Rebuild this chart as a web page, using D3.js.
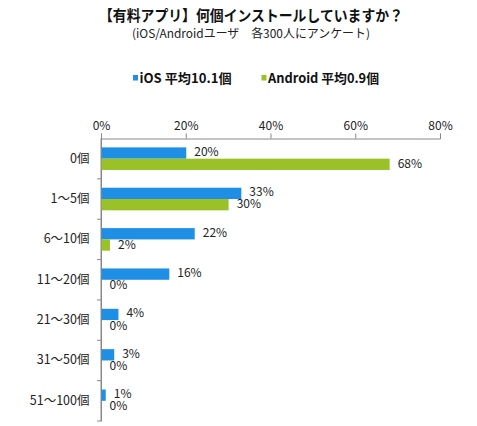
<!DOCTYPE html>
<html><head><meta charset="utf-8">
<script src="https://cdn.jsdelivr.net/npm/d3@7"></script>
<style>body{margin:0;background:#fff}svg{display:block}</style>
</head><body><svg id="c" width="477" height="426"></svg>
<script>
const categories = ["0個","1～5個","6～10個","11～20個","21～30個","31～50個","51～100個"];
const iosValues = [20,33,22,16,4,3,1];
const androidValues = [68,30,2,0,0,0,0];
const seriesNames = ["iOS 平均10.1個","Android 平均0.9個"];
const xTicks = [0,20,40,60,80];

const svg = d3.select("#c");
const font = "'Noto Sans CJK JP','Noto Sans',sans-serif";
const colors = ["#1f8fe6","#9bc128"];
const x = d3.scaleLinear().domain([0,80]).range([101,440]);
const y = d3.scaleBand().domain(categories).range([138.5,421]).paddingInner(0.44).paddingOuter(0.22);

svg.append("text").attr("x",99).attr("y",21)
  .attr("textLength",304).attr("lengthAdjust","spacingAndGlyphs")
  .attr("font-family",font).attr("font-weight","bold").attr("font-size",15).attr("fill","#111")
  .text("【有料アプリ】何個インストールしていますか？");
svg.append("text").attr("x",132).attr("y",38)
  .attr("textLength",238).attr("lengthAdjust","spacingAndGlyphs")
  .attr("font-family",font).attr("font-size",12).attr("fill","#222")
  .text("(iOS/Androidユーザ　各300人にアンケート)");

// legend
const lg = [{x:133,w:92,name:seriesNames[0],c:colors[0]},{x:261.5,w:111,name:seriesNames[1],c:colors[1]}];
lg.forEach(d=>{
  svg.append("rect").attr("x",d.x).attr("y",75).attr("width",5).attr("height",5.5).attr("fill",d.c);
  svg.append("text").attr("x",d.x+6.5).attr("y",83).attr("textLength",d.w).attr("lengthAdjust","spacingAndGlyphs")
    .attr("font-family",font).attr("font-weight","bold")
    .attr("font-size",13).attr("fill","#111").text(d.name);
});

// x axis (top)
const xAxis = d3.axisTop(x).tickValues(xTicks).tickFormat(d=>d+"%").tickSize(5).tickSizeOuter(5);
const gx = svg.append("g").attr("transform","translate(0,138.5)").call(xAxis);
gx.select(".domain").attr("stroke","#888");
gx.selectAll(".tick line").attr("stroke","#888");
gx.selectAll(".tick text").attr("font-family",font).attr("font-size",12).attr("fill","#222").attr("dy","-1");

// y axis
const yAxis = d3.axisLeft(y).tickSize(0).tickSizeOuter(0);
const gy = svg.append("g").attr("transform","translate(101,0)").call(yAxis);
gy.select(".domain").attr("stroke","#888");
gy.selectAll(".tick text").attr("font-family",font).attr("font-size",12.5).attr("fill","#222").attr("dx","-8.5");
// category boundary ticks
const bounds = d3.range(categories.length+1).map(i=>138.5+i*((421-138.5)/categories.length));
svg.append("g").selectAll("line").data(bounds.slice(1)).join("line")
  .attr("x1",97).attr("x2",101).attr("y1",d=>d).attr("y2",d=>d).attr("stroke","#888");
svg.append("line").attr("x1",101).attr("x2",101).attr("y1",138.5).attr("y2",421).attr("stroke","#888");

const bh = y.bandwidth()/2;
const series = [iosValues, androidValues];
series.forEach((vals,si)=>{
  const g = svg.append("g");
  g.selectAll("rect").data(vals).join("rect")
    .attr("x",x(0)+0.5).attr("y",(d,i)=>y(categories[i])+si*bh)
    .attr("width",d=>Math.max(0,x(d)-x(0))).attr("height",bh).attr("fill",colors[si]);
  g.selectAll("text").data(vals).join("text")
    .attr("x",d=>x(d)+8.5).attr("y",(d,i)=>y(categories[i])+si*bh+bh/2+(si===0?-0.5:0.5))
    .attr("dominant-baseline","middle")
    .attr("font-family",font).attr("font-size",12).attr("fill","#222").text(d=>d+"%");
});
</script></body></html>
